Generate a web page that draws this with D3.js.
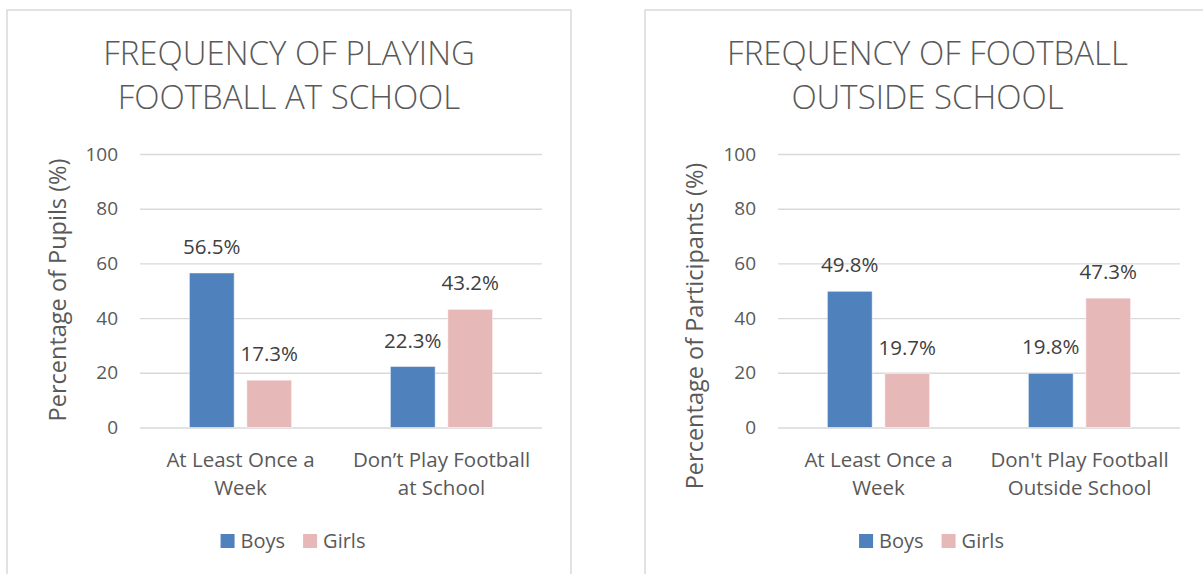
<!DOCTYPE html>
<html>
<head>
<meta charset="utf-8">
<script src="https://cdn.jsdelivr.net/npm/d3@7"></script>
<style>
  html, body { margin: 0; padding: 0; background: #ffffff; }
  svg { display: block; }
  text { font-family: "Open Sans", "Noto Sans", "DejaVu Sans", sans-serif; }
</style>
</head>
<body>
<svg id="chart" width="1203" height="574"></svg>
<script>
// Chart data
const seriesNames = ["Boys", "Girls"];
const seriesColors = ["#4f81bd", "#e6b8b7"];
const yTicks = [0, 20, 40, 60, 80, 100];

const schoolTitle = ["FREQUENCY OF PLAYING", "FOOTBALL AT SCHOOL"];
const schoolCategories = ["At Least Once a\nWeek", "Don\u2019t Play Football\nat School"];
const schoolBoys = [56.5, 22.3];
const schoolGirls = [17.3, 43.2];
const schoolAxisTitle = "Percentage of Pupils (%)";

const outsideTitle = ["FREQUENCY OF FOOTBALL", "OUTSIDE SCHOOL"];
const outsideCategories = ["At Least Once a\nWeek", "Don't Play Football\nOutside School"];
const outsideBoys = [49.8, 19.8];
const outsideGirls = [19.7, 47.3];
const outsideAxisTitle = "Percentage of Participants (%)";

const svg = d3.select("#chart");
const gridColor = "#d9d9d9";
const textColor = "#595959";
const labelColor = "#404040";

function drawPanel(opts) {
  const g = svg.append("g");

  // panel frame
  g.append("rect")
    .attr("x", opts.frame.x).attr("y", opts.frame.y)
    .attr("width", opts.frame.w).attr("height", opts.frame.h)
    .attr("fill", "#ffffff")
    .attr("stroke", gridColor).attr("stroke-width", 1.5);

  const cx = opts.frame.x + opts.frame.w / 2;

  // title
  g.append("g").selectAll("text")
    .data(opts.title)
    .join("text")
    .attr("x", cx)
    .attr("y", (d, i) => 65 + i * 43.5)
    .attr("text-anchor", "middle")
    .attr("font-size", 33)
    .attr("font-weight", 300)
    .attr("fill", textColor)
    .text(d => d);

  const x = d3.scaleBand()
    .domain(opts.categories)
    .range([opts.left, opts.right])
    .paddingInner(0).paddingOuter(0);

  const xSub = d3.scaleBand()
    .domain(seriesNames)
    .range([0, x.bandwidth()])
    .paddingInner(0.22).paddingOuter(0.86);

  const y = d3.scaleLinear().domain([0, 100]).range([427.5, 154]);

  // gridlines
  const grid = g.append("g")
    .attr("transform", `translate(${opts.left},0)`)
    .call(d3.axisLeft(y).tickValues(yTicks).tickSize(-(opts.right - opts.left)).tickFormat(""));
  grid.select(".domain").remove();
  grid.selectAll("line").attr("stroke", gridColor).attr("stroke-width", 1.4);

  // y tick labels
  const yAxis = g.append("g")
    .attr("transform", `translate(${opts.left},0)`)
    .call(d3.axisLeft(y).tickValues(yTicks).tickSize(0).tickPadding(22));
  yAxis.select(".domain").remove();
  yAxis.selectAll("text")
    .attr("font-size", 19)
    .attr("fill", textColor)
    .attr("font-family", "'Open Sans', sans-serif");

  // y axis title
  g.append("text")
    .attr("transform", `translate(${opts.axisTitleX},${opts.axisTitleY}) rotate(-90)`)
    .attr("text-anchor", "middle")
    .attr("font-size", 23.5)
    .attr("fill", textColor)
    .text(opts.axisTitle);

  // bars
  const rows = opts.categories.map((c, i) => ({
    category: c,
    values: [
      { series: "Boys", value: opts.boys[i], color: seriesColors[0] },
      { series: "Girls", value: opts.girls[i], color: seriesColors[1] }
    ]
  }));

  const groups = g.append("g").selectAll("g")
    .data(rows)
    .join("g")
    .attr("transform", d => `translate(${x(d.category)},0)`);

  groups.selectAll("rect")
    .data(d => d.values)
    .join("rect")
    .attr("x", d => xSub(d.series))
    .attr("width", xSub.bandwidth())
    .attr("y", d => y(d.value))
    .attr("height", d => y(0) - y(d.value))
    .attr("fill", d => d.color)
    .attr("stroke", "#ffffff")
    .attr("stroke-opacity", 0.5)
    .attr("stroke-width", 1);

  // value labels
  groups.selectAll("text.val")
    .data(d => d.values)
    .join("text")
    .attr("class", "val")
    .attr("x", d => xSub(d.series) + xSub.bandwidth() / 2)
    .attr("y", d => y(d.value) - 19)
    .attr("text-anchor", "middle")
    .attr("font-size", 20.5)
    .attr("fill", labelColor)
    .text(d => d.value.toFixed(1) + "%");

  // category labels
  const cat = g.append("g").selectAll("text")
    .data(opts.categories)
    .join("text")
    .attr("x", d => x(d) + x.bandwidth() / 2)
    .attr("y", 467)
    .attr("text-anchor", "middle")
    .attr("font-size", 20.5)
    .attr("fill", textColor);
  cat.selectAll("tspan")
    .data(d => d.split("\n"))
    .join("tspan")
    .attr("x", function () { return d3.select(this.parentNode).attr("x"); })
    .attr("dy", (d, i) => i === 0 ? 0 : 28)
    .text(d => d);

  // legend
  const legend = g.append("g");
  const items = legend.selectAll("g")
    .data(seriesNames)
    .join("g");
  items.append("rect")
    .attr("width", 14).attr("height", 14)
    .attr("y", 534)
    .attr("fill", (d, i) => seriesColors[i]);
  items.append("text")
    .attr("x", 20)
    .attr("y", 548)
    .attr("font-size", 20)
    .attr("fill", textColor)
    .text(d => d);
  let offset = 0;
  items.each(function () {
    const w = 20 + d3.select(this).select("text").node().getComputedTextLength();
    d3.select(this).attr("transform", `translate(${offset},0)`);
    offset += w + 18;
  });
  const totalW = offset - 18;
  legend.attr("transform", `translate(${cx + 4 - totalW / 2},0)`);
}

drawPanel({
  frame: { x: 7, y: 10, w: 564, h: 580 },
  left: 140, right: 542,
  title: schoolTitle,
  categories: schoolCategories,
  boys: schoolBoys, girls: schoolGirls,
  axisTitle: schoolAxisTitle,
  axisTitleX: 66, axisTitleY: 290
});

drawPanel({
  frame: { x: 645, y: 10, w: 565, h: 580 },
  left: 778, right: 1180,
  title: outsideTitle,
  categories: outsideCategories,
  boys: outsideBoys, girls: outsideGirls,
  axisTitle: outsideAxisTitle,
  axisTitleX: 703, axisTitleY: 326
});
</script>
</body>
</html>
